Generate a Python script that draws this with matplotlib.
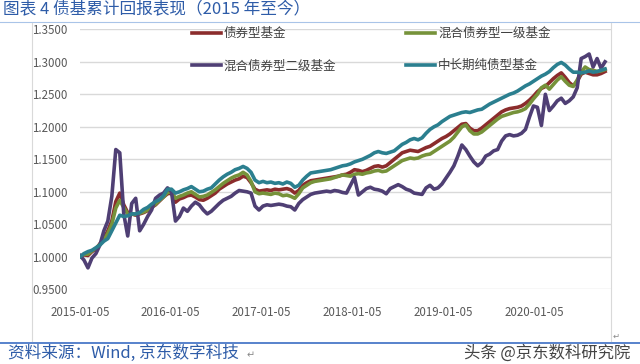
import numpy as np
import pandas as pd
import matplotlib.pyplot as plt
from matplotlib.lines import Line2D

plt.rcParams['font.family'] = ['Noto Sans CJK SC', 'DejaVu Sans']

# data (about every 16 days from 2015-01-05)
dates = pd.date_range('2015-01-05', periods=133, freq='16D')

bond = [1.000, 1.003, 1.002, 1.008, 1.012, 1.020, 1.028, 1.040, 1.055, 1.085,
        1.098, 1.080, 1.068, 1.066, 1.064, 1.066, 1.068, 1.071, 1.076, 1.080,
        1.086, 1.092, 1.097, 1.098, 1.084, 1.089, 1.091, 1.094, 1.095, 1.092,
        1.088, 1.087, 1.090, 1.094, 1.098, 1.104, 1.108, 1.112, 1.115, 1.118,
        1.120, 1.124, 1.122, 1.114, 1.104, 1.101, 1.102, 1.103, 1.102, 1.104,
        1.103, 1.104, 1.105, 1.103, 1.098, 1.102, 1.110, 1.114, 1.117, 1.118,
        1.119, 1.120, 1.121, 1.122, 1.123, 1.124, 1.126, 1.127, 1.130, 1.134,
        1.133, 1.131, 1.133, 1.136, 1.139, 1.140, 1.138, 1.140, 1.145, 1.150,
        1.155, 1.160, 1.162, 1.164, 1.163, 1.162, 1.165, 1.168, 1.170, 1.174,
        1.178, 1.182, 1.185, 1.189, 1.194, 1.199, 1.204, 1.205, 1.198, 1.194,
        1.194, 1.198, 1.203, 1.208, 1.213, 1.218, 1.223, 1.226, 1.228, 1.229,
        1.230, 1.232, 1.236, 1.241, 1.247, 1.254, 1.259, 1.262, 1.268, 1.274,
        1.279, 1.283, 1.276, 1.268, 1.263, 1.270, 1.281, 1.284, 1.282, 1.280,
        1.280, 1.282, 1.285]

mixed1 = [1.000, 1.004, 1.004, 1.009, 1.013, 1.019, 1.026, 1.036, 1.050, 1.075,
          1.087, 1.076, 1.066, 1.066, 1.065, 1.067, 1.069, 1.072, 1.077, 1.081,
          1.087, 1.092, 1.099, 1.100, 1.090, 1.093, 1.095, 1.098, 1.100, 1.096,
          1.092, 1.093, 1.095, 1.099, 1.103, 1.108, 1.113, 1.117, 1.121, 1.124,
          1.126, 1.130, 1.126, 1.116, 1.100, 1.097, 1.098, 1.097, 1.096, 1.098,
          1.097, 1.094, 1.095, 1.093, 1.090, 1.097, 1.106, 1.110, 1.114, 1.116,
          1.117, 1.118, 1.119, 1.120, 1.122, 1.124, 1.126, 1.125, 1.124, 1.127,
          1.128, 1.127, 1.129, 1.130, 1.132, 1.133, 1.131, 1.132, 1.136, 1.140,
          1.144, 1.148, 1.150, 1.152, 1.151, 1.152, 1.155, 1.157, 1.158, 1.162,
          1.166, 1.170, 1.174, 1.178, 1.184, 1.192, 1.200, 1.203, 1.194, 1.189,
          1.189, 1.192, 1.197, 1.202, 1.207, 1.212, 1.216, 1.218, 1.220, 1.222,
          1.223, 1.225, 1.228, 1.235, 1.243, 1.250, 1.260, 1.264, 1.258, 1.265,
          1.272, 1.277, 1.270, 1.264, 1.262, 1.272, 1.284, 1.292, 1.288, 1.287,
          1.285, 1.286, 1.288]

mixed2 = [1.002, 0.995, 0.983, 0.998, 1.005, 1.018, 1.040, 1.055, 1.093, 1.165,
          1.160, 1.066, 1.032, 1.082, 1.090, 1.040, 1.050, 1.062, 1.072, 1.090,
          1.095, 1.098, 1.106, 1.100, 1.055, 1.062, 1.075, 1.070, 1.078, 1.084,
          1.080, 1.072, 1.066, 1.070, 1.076, 1.082, 1.087, 1.090, 1.093, 1.098,
          1.102, 1.101, 1.100, 1.098, 1.078, 1.072, 1.078, 1.080, 1.079, 1.080,
          1.081, 1.080, 1.078, 1.077, 1.072, 1.082, 1.088, 1.092, 1.096, 1.098,
          1.099, 1.100, 1.101, 1.100, 1.102, 1.101, 1.099, 1.098, 1.110, 1.122,
          1.095, 1.100, 1.105, 1.107, 1.104, 1.103, 1.101, 1.097, 1.105, 1.108,
          1.111, 1.108, 1.104, 1.102, 1.098, 1.097, 1.096, 1.106, 1.110, 1.104,
          1.106, 1.112, 1.121, 1.130, 1.140, 1.155, 1.172, 1.165, 1.155, 1.146,
          1.140, 1.145, 1.155, 1.158, 1.163, 1.165, 1.178, 1.186, 1.188, 1.186,
          1.187, 1.190, 1.196, 1.215, 1.232, 1.230, 1.202, 1.250, 1.225, 1.232,
          1.240, 1.244, 1.236, 1.240, 1.246, 1.260, 1.305, 1.308, 1.312, 1.292,
          1.305, 1.290, 1.300]

midlong = [1.000, 1.005, 1.008, 1.010, 1.014, 1.018, 1.024, 1.028, 1.040, 1.052,
           1.064, 1.062, 1.063, 1.066, 1.066, 1.068, 1.073, 1.076, 1.081, 1.085,
           1.088, 1.094, 1.104, 1.104, 1.098, 1.100, 1.103, 1.105, 1.108, 1.104,
           1.100, 1.101, 1.104, 1.106, 1.112, 1.118, 1.123, 1.127, 1.130, 1.134,
           1.136, 1.139, 1.136, 1.130, 1.118, 1.114, 1.116, 1.114, 1.115, 1.113,
           1.114, 1.112, 1.115, 1.113, 1.107, 1.110, 1.118, 1.124, 1.129, 1.130,
           1.131, 1.132, 1.133, 1.134, 1.136, 1.138, 1.140, 1.141, 1.143, 1.146,
           1.148, 1.150, 1.153, 1.156, 1.160, 1.162, 1.160, 1.159, 1.161, 1.163,
           1.168, 1.173, 1.176, 1.180, 1.182, 1.180, 1.183, 1.190, 1.196, 1.200,
           1.203, 1.208, 1.212, 1.216, 1.218, 1.220, 1.222, 1.223, 1.222, 1.224,
           1.226, 1.227, 1.231, 1.235, 1.238, 1.241, 1.244, 1.247, 1.250, 1.252,
           1.255, 1.259, 1.263, 1.266, 1.270, 1.274, 1.278, 1.281, 1.285, 1.291,
           1.296, 1.299, 1.295, 1.289, 1.284, 1.284, 1.283, 1.284, 1.286, 1.284,
           1.285, 1.287, 1.289]

names = ['债券型基金', '混合债券型一级基金', '混合债券型二级基金', '中长期纯债型基金']
colors = ['#8B2C2C', '#76923A', '#4F3F74', '#2B7F8F']
tick_labels = ['2015-01-05', '2016-01-05', '2017-01-05', '2018-01-05',
               '2019-01-05', '2020-01-05']
yticks = [0.95, 1.00, 1.05, 1.10, 1.15, 1.20, 1.25, 1.30, 1.35]

W, H = 640, 364
fig = plt.figure(figsize=(W / 100, H / 100), dpi=100)


def px(x, y):
    return x / W, 1 - y / H


# title, rules and frame
fig.text(*px(3, 10), '图表 4 债基累计回报表现（2015 年至今）', color='#2E5CA8',
         fontsize=12, va='center', ha='left')
fig.add_artist(Line2D([0, 1], [1 - 22 / H] * 2, color='#A9C4E8', lw=0.8))
fig.add_artist(Line2D([0, 1], [1 - 343 / H] * 2, color='#4A78C8', lw=1.3))
fig.add_artist(Line2D([32 / W, 32 / W], [1 - 23 / H, 1 - 341 / H], color='#D9D9D9', lw=0.8))
fig.add_artist(Line2D([611 / W, 611 / W], [1 - 23 / H, 1 - 341 / H], color='#D9D9D9', lw=0.8))

fig.text(*px(8, 353), '资料来源：Wind, 京东数字科技', color='#2E5CA8', fontsize=12,
         va='center', ha='left')
fig.text(*px(247, 355), '↵', color='#888888', fontsize=7, va='center', ha='left')
fig.text(*px(613, 336), '↵', color='#888888', fontsize=6, va='center', ha='left')
fig.text(*px(630, 353), '头条 @京东数科研究院', color='#444444', fontsize=11.8,
         va='center', ha='right')

# plot area
l, b = px(80, 289.3)
ax = fig.add_axes([l, b, 531 / W, 260 / H])
series = [bond, mixed1, mixed2, midlong]
lines = []
for vals, name, c in zip(series, names, colors):
    ln, = ax.plot(dates, vals, color=c, lw=2.6, label=name, solid_joinstyle='round')
    lines.append(ln)

ax.set_xlim(pd.Timestamp('2015-01-05'), pd.Timestamp('2020-11-10'))
ax.set_ylim(0.95, 1.35)
ax.set_yticks(yticks)
ax.set_yticklabels(['%.4f' % v for v in yticks])
ax.set_xticks(pd.to_datetime(tick_labels))
ax.set_xticklabels(tick_labels)
ax.tick_params(length=0, labelsize=8.3, colors='#595959')
ax.tick_params(axis='y', pad=9)
ax.tick_params(axis='x', pad=12)
ax.grid(axis='y', color='#D9D9D9', lw=1)
ax.set_axisbelow(True)
for s in ax.spines.values():
    s.set_visible(False)

# legend: row 1 red/green, row 2 purple/teal
order = [0, 2, 1, 3]
leg = ax.legend([lines[i] for i in order], [names[i] for i in order], ncol=2,
                frameon=False, fontsize=9, handlelength=2.3, handletextpad=0.25,
                columnspacing=5.6, labelspacing=1.55, loc='upper left',
                bbox_to_anchor=px(192, 27), bbox_transform=fig.transFigure,
                borderpad=0, borderaxespad=0)
for t in leg.get_texts():
    t.set_color('#404040')

fig.savefig('out.png', dpi=100)
